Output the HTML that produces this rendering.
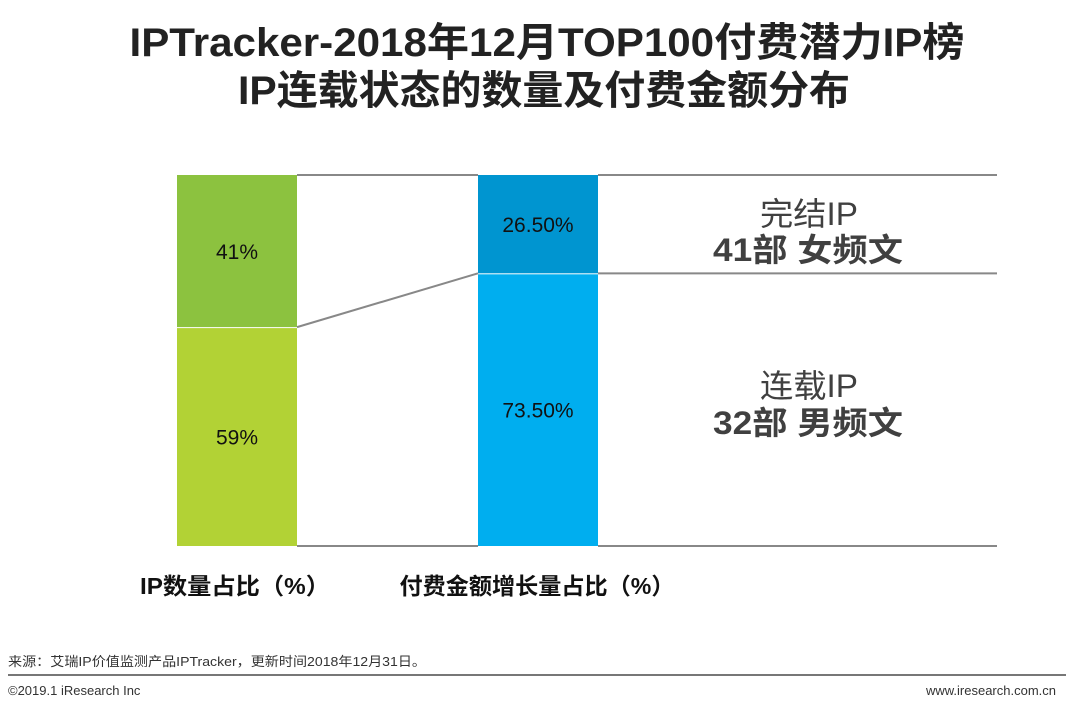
<!DOCTYPE html>
<html><head><meta charset="utf-8"><style>
body{margin:0;width:1080px;height:706px;background:#fff;overflow:hidden;font-family:"Liberation Sans","Noto Sans CJK SC",sans-serif;}
</style></head><body>
<svg width="1080" height="706" xmlns="http://www.w3.org/2000/svg" font-family="'Liberation Sans','Noto Sans CJK SC',sans-serif">
<g font-weight="bold" font-size="40" fill="#222" text-anchor="middle">
<text x="547" y="56" textLength="835" lengthAdjust="spacingAndGlyphs">IPTracker-2018年12月TOP100付费潜力IP榜</text>
<text x="544" y="104" textLength="612" lengthAdjust="spacingAndGlyphs">IP连载状态的数量及付费金额分布</text>
</g>
<g id="marks"></g>
<g fill="#404040" text-anchor="middle">
<text x="809" y="225" font-size="32" textLength="98" lengthAdjust="spacingAndGlyphs">完结IP</text>
<text x="808" y="261" font-size="32" font-weight="bold" textLength="190" lengthAdjust="spacingAndGlyphs">41部 女频文</text>
<text x="809" y="397" font-size="32" textLength="98" lengthAdjust="spacingAndGlyphs">连载IP</text>
<text x="808" y="434" font-size="32" font-weight="bold" textLength="190" lengthAdjust="spacingAndGlyphs">32部 男频文</text>
</g>
<text x="235" y="594" font-size="23" font-weight="bold" fill="#111" text-anchor="middle" textLength="190" lengthAdjust="spacingAndGlyphs">IP数量占比（%）</text>
<text x="537" y="594" font-size="23" font-weight="bold" fill="#111" text-anchor="middle" textLength="275" lengthAdjust="spacingAndGlyphs">付费金额增长量占比（%）</text>
<text x="8" y="666" font-size="13" fill="#333" textLength="418" lengthAdjust="spacingAndGlyphs">来源：艾瑞IP价值监测产品IPTracker，更新时间2018年12月31日。</text>
<line x1="8" y1="675" x2="1066" y2="675" stroke="#777" stroke-width="2"/>
<text x="8" y="695" font-size="13" fill="#333">©2019.1 iResearch Inc</text>
<text x="1056" y="695" font-size="13" fill="#333" text-anchor="end">www.iresearch.com.cn</text>
</svg>
<script>
const categories = ["IP数量占比", "付费金额增长量占比"];
const topValues = [41, 26.5];
const bottomValues = [59, 73.5];
const topLabels = ["41%", "26.50%"];
const bottomLabels = ["59%", "73.50%"];
const topColors = ["#8cc23f", "#0095d0"];
const bottomColors = ["#b2d235", "#00aeef"];

const NS = "http://www.w3.org/2000/svg";
const g = document.getElementById("marks");
const yTop = 175, yBot = 546;
const barW = 120;
const xs = i => 177 + i * 301;
const y = v => yTop + (v / 100) * (yBot - yTop);
function mk(tag, attrs){const e=document.createElementNS(NS,tag);for(const k in attrs)e.setAttribute(k,attrs[k]);g.appendChild(e);return e;}

const splits = [];
categories.forEach((c, i) => {
  const x = xs(i);
  const tot = topValues[i] + bottomValues[i];
  const ys = y(topValues[i] / tot * 100);
  splits.push(ys);
  const r1 = mk("rect",{x:x,y:yTop,width:barW,height:ys-yTop,fill:topColors[i]});
  
  
  const r2 = mk("rect",{x:x,y:ys+1,width:barW,height:yBot-ys-1,fill:bottomColors[i]});
  
  
  const t1 = mk("text",{x:x+barW/2,y:(yTop+ys)/2+8,"font-size":21,"text-anchor":"middle",fill:"#111"});
  t1.textContent = topLabels[i];
  
  
  const t2 = mk("text",{x:x+barW/2,y:(ys+yBot)/2+8,"font-size":21,"text-anchor":"middle",fill:"#111"});
  
  
  t2.textContent = bottomLabels[i];
});
const lines = [
  [xs(0)+barW, yTop, xs(1), yTop],
  [xs(0)+barW, yBot, xs(1), yBot],
  [xs(0)+barW, splits[0], xs(1), splits[1]],
  [xs(1)+barW, yTop, 997, yTop],
  [xs(1)+barW, splits[1], 997, splits[1]],
  [xs(1)+barW, yBot, 997, yBot]
];
lines.forEach((l, i) => {
  const e = mk("line",{x1:l[0],y1:l[1],x2:l[2],y2:l[3],stroke:"#888","stroke-width":2});
  
  
});
</script>
</body></html>
